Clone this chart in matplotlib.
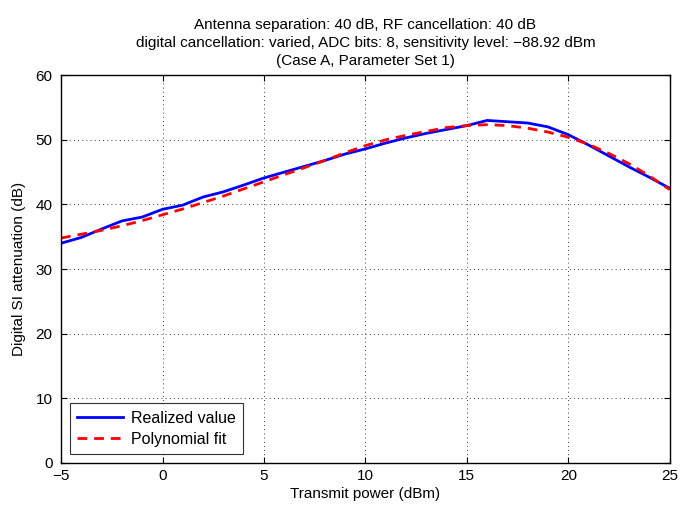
import matplotlib
matplotlib.use("Agg")
import matplotlib.pyplot as plt

plt.rcParams['font.family'] = ['Liberation Sans', 'DejaVu Sans']

tx_power = [-5, -4, -3, -2, -1, 0, 1, 2, 3, 4, 5, 6, 7, 8, 9, 10, 11, 12, 13, 14, 15,
            16, 18, 19, 20, 21, 22, 23, 24, 25]
realized = [34.0, 34.9, 36.2, 37.45, 38.05, 39.25, 39.9, 41.15, 41.95, 43.0, 44.1, 45.0, 45.9,
            46.8, 47.8, 48.6, 49.5, 50.3, 51.0, 51.6, 52.2,
            53.0, 52.6, 52.0, 50.8, 49.2, 47.5, 45.8, 44.2, 42.5]

fit_x = [-5, -4, -3, -2, -1, 0, 1, 2, 3, 4, 5, 6, 7, 8, 9, 10, 11, 12, 13, 14, 15,
         16, 17, 18, 19, 20, 21, 22, 23, 24, 25]
fit_y = [34.8, 35.4, 36.0, 36.7, 37.5, 38.4, 39.3, 40.3, 41.3, 42.4, 43.5, 44.6, 45.7,
         46.8, 48.0, 49.1, 50.0, 50.7, 51.3, 51.9, 52.2,
         52.35, 52.2, 51.8, 51.2, 50.4, 49.3, 47.9, 46.3, 44.4, 42.3]

title_lines = ["Antenna separation: 40 dB, RF cancellation: 40 dB",
               "digital cancellation: varied, ADC bits: 8, sensitivity level: \u221288.92 dBm",
               "(Case A, Parameter Set 1)"]

fig = plt.figure(figsize=(6.94, 5.08), dpi=100)
ax = fig.add_axes([0.088, 0.0886, 0.877, 0.7634])

ax.plot(tx_power, realized, color='#0000ff', lw=2, label='Realized value')
ax.plot(fit_x, fit_y, color='#ff0000', lw=2, ls=(0, (3.5, 2.5)), label='Polynomial fit')

ax.set_xlim(-5, 25)
ax.set_ylim(0, 60)
ax.set_xticks(range(-5, 26, 5))
ax.set_yticks(range(0, 61, 10))
ax.set_xticklabels(['\u22125' if v < 0 else str(v) for v in range(-5, 26, 5)])
ax.grid(True, color='black', ls=(0, (1, 4)), lw=0.6)
ax.tick_params(direction='in', top=True, right=True, labelsize=11, length=4, width=0.8)
ax.tick_params(axis='y', pad=6)
ax.tick_params(axis='x', pad=4)
for s in ax.spines.values():
    s.set_linewidth(1.0)

ax.set_xlabel('Transmit power (dBm)', fontsize=11, labelpad=3)
ax.set_ylabel('Digital SI attenuation (dB)', fontsize=11, labelpad=7)
ax.set_title("\n".join(title_lines), fontsize=11, linespacing=1.38, pad=7)

leg = ax.legend(loc='lower left', fontsize=11.5, frameon=True, fancybox=False,
                edgecolor='black', handlelength=2.9, handletextpad=0.45,
                borderpad=0.45, labelspacing=0.4, borderaxespad=0.55)
leg.get_frame().set_linewidth(0.8)

fig.savefig('out.png', dpi=100)
